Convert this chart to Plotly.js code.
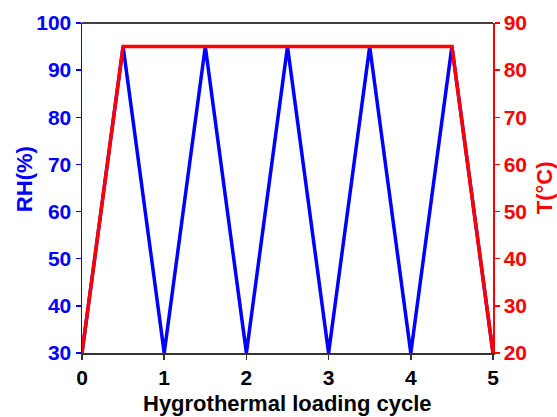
<!DOCTYPE html>
<html><head><meta charset="utf-8">
<script src="https://cdn.plot.ly/plotly-3.0.1.min.js"></script>
<style>html,body{margin:0;padding:0;background:#fff}</style>
</head><body>
<div id="chart" style="width:557px;height:417px"></div>
<script>
const cycleRH = [0, 0.5, 1, 1.5, 2, 2.5, 3, 3.5, 4, 4.5, 5];
const rhValues = [30, 95, 30, 95, 30, 95, 30, 95, 30, 95, 30];
const cycleT = [0, 0.5, 4.5, 5];
const tValues = [20, 85, 85, 20];
const xTicks = [0, 1, 2, 3, 4, 5];
const rhTicks = [30, 40, 50, 60, 70, 80, 90, 100];
const tTicks = [20, 30, 40, 50, 60, 70, 80, 90];

const fontFam = 'Liberation Sans, Arial, sans-serif';
const bold = v => '<b>' + v + '</b>';
const traces = [
  {x: cycleRH, y: rhValues, mode: 'lines', line: {color: '#0000ff', width: 3.5}, yaxis: 'y', showlegend: false, cliponaxis: false},
  {x: cycleT, y: tValues, mode: 'lines', line: {color: '#ff0000', width: 3.5}, yaxis: 'y2', showlegend: false, cliponaxis: false}
];
const layout = {
  width: 557, height: 417,
  margin: {l: 82, r: 64, t: 23, b: 64},
  paper_bgcolor: '#fff', plot_bgcolor: '#fff',
  font: {family: fontFam},
  xaxis: {
    range: [0, 5], tickvals: xTicks, ticktext: xTicks.map(bold),
    showgrid: false, zeroline: false, showline: true, linecolor: '#333', linewidth: 1.5,
    ticks: 'outside', ticklen: 5, tickcolor: '#333', tickwidth: 1.5,
    tickfont: {size: 21, color: '#000', family: fontFam}
  },
  yaxis: {
    range: [30, 100], tickvals: rhTicks, ticktext: rhTicks.map(bold),
    showgrid: false, zeroline: false, showline: true, linecolor: '#0000ff', linewidth: 1.5,
    ticks: 'outside', ticklen: 5, tickcolor: '#0000ff', tickwidth: 1.5,
    tickfont: {size: 21, color: '#0000ff', family: fontFam}
  },
  yaxis2: {
    range: [20, 90], tickvals: tTicks, ticktext: tTicks.map(bold),
    overlaying: 'y', side: 'right',
    showgrid: false, zeroline: false, showline: true, linecolor: '#ff0000', linewidth: 1.5,
    ticks: 'outside', ticklen: 5, tickcolor: '#ff0000', tickwidth: 1.5,
    tickfont: {size: 21, color: '#ff0000', family: fontFam}
  },
  shapes: [
    {type: 'line', xref: 'paper', yref: 'paper', x0: 0, x1: 1, y0: 1, y1: 1, line: {color: '#000', width: 1.5}}
  ],
  annotations: [
    {text: '<b>Hygrothermal loading cycle</b>', xref: 'paper', yref: 'paper', x: 0.5, y: -0.152, xanchor: 'center', yanchor: 'middle', showarrow: false, font: {size: 22, color: '#000', family: fontFam}},
    {text: '<b>RH(%)</b>', xref: 'paper', yref: 'paper', x: -0.141, y: 0.527, xanchor: 'center', yanchor: 'middle', textangle: -90, showarrow: false, font: {size: 22, color: '#0000ff', family: fontFam}},
    {text: '<b>T(°C)</b>', xref: 'paper', yref: 'paper', x: 1.124, y: 0.502, xanchor: 'center', yanchor: 'middle', textangle: -90, showarrow: false, font: {size: 22, color: '#ff0000', family: fontFam}}
  ]
};
Plotly.newPlot('chart', traces, layout, {displayModeBar: false, staticPlot: true});
</script>
</body></html>
